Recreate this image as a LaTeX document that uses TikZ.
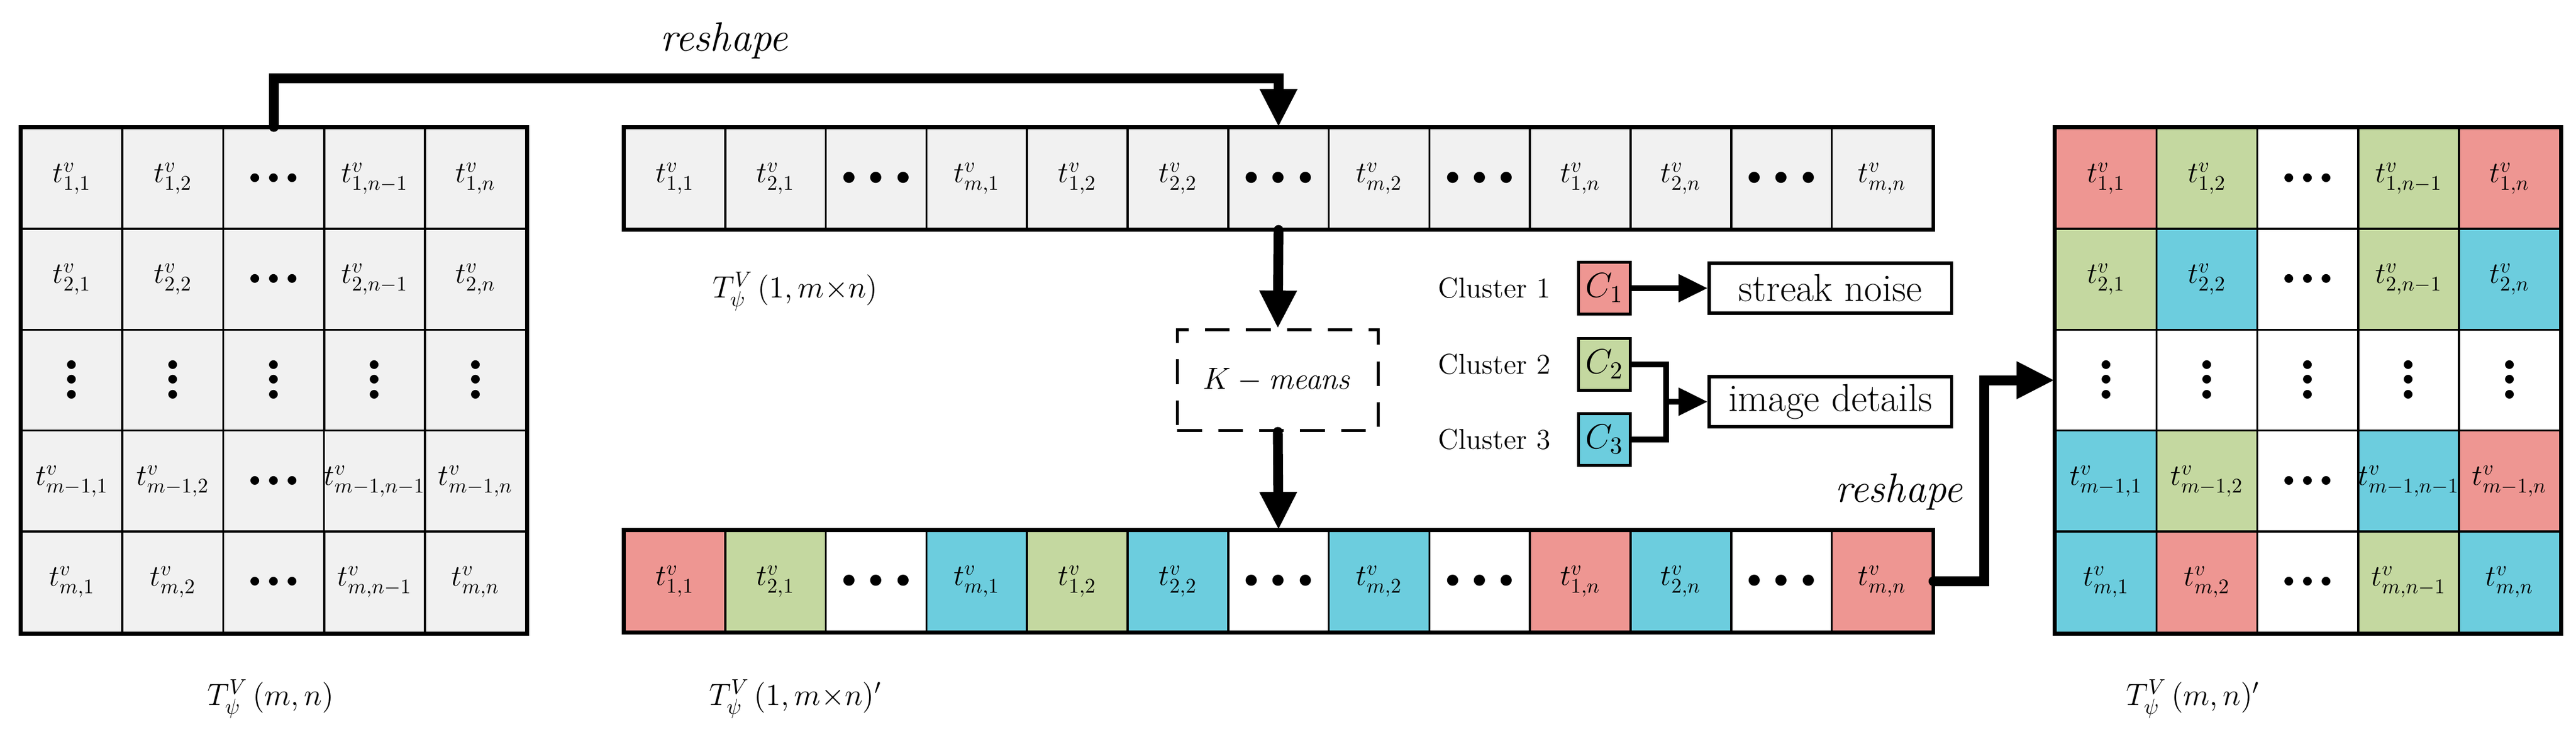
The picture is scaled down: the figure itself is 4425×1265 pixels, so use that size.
\RequirePackage{fix-cm}
\documentclass[tikz,border=0pt]{standalone}
\usepackage{amsmath,amssymb}
\usepackage{tikz}
\usetikzlibrary{arrows.meta,positioning}

\definecolor{cpink}{RGB}{238,150,146}
\definecolor{cgreen}{RGB}{196,216,160}
\definecolor{ccyan}{RGB}{108,205,222}
\definecolor{cgray}{RGB}{241,241,241}

\newcommand{\tv}[1]{$t^{v}_{#1}$}
\newcommand{\hdts}{{\fontsize{11}{13}\selectfont$\bullet\mkern2mu\bullet\mkern2mu\bullet$}}
\newcommand{\hdtsbig}{{\fontsize{14}{17}\selectfont$\bullet\mkern4mu\bullet\mkern4mu\bullet$}}
\newcommand{\vdts}{{\fontsize{11}{13}\selectfont$\vcenter{\baselineskip=7.2pt\lineskiplimit=-20pt\hbox{$\bullet$}\hbox{$\bullet$}\hbox{$\bullet$}}$}}

\begin{document}
\begin{tikzpicture}[x=0.01cm, y=-0.01cm,
  cell/.style={draw, line width=1pt, minimum size=1.733cm, inner sep=0pt, font=\fontsize{14.5}{17}\selectfont},
  seg/.style={draw, line width=1pt, minimum width=1.728cm, minimum height=1.733cm, inner sep=0pt, font=\fontsize{14.5}{17}\selectfont},
  clu/.style={draw, line width=1.3pt, minimum size=0.89cm, inner sep=0pt, font=\fontsize{17}{20}\selectfont},
  cluname/.style={inner sep=0pt, font=\fontsize{14}{17}\selectfont},
  outbox/.style={draw, line width=1.5pt, minimum width=4.16cm, minimum height=0.86cm, font=\fontsize{19}{22}\selectfont},
  lab/.style={font=\fontsize{15}{19}\selectfont},
  rs/.style={font=\fontsize{20}{24}\selectfont\itshape},
  bigarrow/.style={line width=4.8pt, line cap=round, -{Triangle[length=0.65cm,width=0.6cm]}},
  smallarrow/.style={line width=2.8pt, -{Triangle[length=0.5cm,width=0.46cm]}}]
  \useasboundingbox (0,0) rectangle (4425,1265);

  % left matrix
  \foreach \lab [count=\j] in {{\tv{1,1}},{\tv{1,2}},\hdts,{\tv{1,n-1}},{\tv{1,n}}}
    \node[cell, fill=cgray] (L1\j) at ({-49.65+173.3*\j}, 306.5) {\lab};
  \foreach \lab [count=\j] in {{\tv{2,1}},{\tv{2,2}},\hdts,{\tv{2,n-1}},{\tv{2,n}}}
    \node[cell, fill=cgray] (L2\j) at ({-49.65+173.3*\j}, 479.8) {\lab};
  \foreach \j in {1,...,5}
    \node[cell, fill=cgray] (L3\j) at ({-49.65+173.3*\j}, 653.1) {\vdts};
  \foreach \lab [count=\j] in {{\tv{m-1,1}},{\tv{m-1,2}},\hdts,{\tv{m-1,n-1}},{\tv{m-1,n}}}
    \node[cell, fill=cgray] (L4\j) at ({-49.65+173.3*\j}, 826.4) {\lab};
  \foreach \lab [count=\j] in {{\tv{m,1}},{\tv{m,2}},\hdts,{\tv{m,n-1}},{\tv{m,n}}}
    \node[cell, fill=cgray] (L5\j) at ({-49.65+173.3*\j}, 999.7) {\lab};
  \draw[line width=2pt] (L11.north west) rectangle (L55.south east);

  % flattened vector and its clustered copy
  \foreach \lab [count=\k] in {{\tv{1,1}},{\tv{2,1}},\hdtsbig,{\tv{m,1}},{\tv{1,2}},{\tv{2,2}},\hdtsbig,{\tv{m,2}},\hdtsbig,{\tv{1,n}},{\tv{2,n}},\hdtsbig,{\tv{m,n}}}
    \node[seg, fill=cgray] (A\k) at ({986.6+172.8*\k}, 306.5) {\lab};
  \foreach \lab/\col [count=\k] in {{\tv{1,1}}/cpink,{\tv{2,1}}/cgreen,\hdtsbig/white,{\tv{m,1}}/ccyan,{\tv{1,2}}/cgreen,{\tv{2,2}}/ccyan,\hdtsbig/white,{\tv{m,2}}/ccyan,\hdtsbig/white,{\tv{1,n}}/cpink,{\tv{2,n}}/ccyan,\hdtsbig/white,{\tv{m,n}}/cpink}
    \node[seg, fill=\col] (B\k) at ({986.6+172.8*\k}, 998.5) {\lab};
  \draw[line width=1.7pt] (A1.north west) rectangle (A13.south east);
  \draw[line width=1.7pt] (B1.north west) rectangle (B13.south east);

  % right matrix
  \foreach \lab/\col [count=\j] in {{\tv{1,1}}/cpink,{\tv{1,2}}/cgreen,\hdts/white,{\tv{1,n-1}}/cgreen,{\tv{1,n}}/cpink}
    \node[cell, fill=\col] (R1\j) at ({3444.35+173.3*\j}, 306.5) {\lab};
  \foreach \lab/\col [count=\j] in {{\tv{2,1}}/cgreen,{\tv{2,2}}/ccyan,\hdts/white,{\tv{2,n-1}}/cgreen,{\tv{2,n}}/ccyan}
    \node[cell, fill=\col] (R2\j) at ({3444.35+173.3*\j}, 479.8) {\lab};
  \foreach \j in {1,...,5}
    \node[cell, fill=white] (R3\j) at ({3444.35+173.3*\j}, 653.1) {\vdts};
  \foreach \lab/\col [count=\j] in {{\tv{m-1,1}}/ccyan,{\tv{m-1,2}}/cgreen,\hdts/white,{\tv{m-1,n-1}}/ccyan,{\tv{m-1,n}}/cpink}
    \node[cell, fill=\col] (R4\j) at ({3444.35+173.3*\j}, 826.4) {\lab};
  \foreach \lab/\col [count=\j] in {{\tv{m,1}}/ccyan,{\tv{m,2}}/cpink,\hdts/white,{\tv{m,n-1}}/cgreen,{\tv{m,n}}/ccyan}
    \node[cell, fill=\col] (R5\j) at ({3444.35+173.3*\j}, 999.7) {\lab};
  \draw[line width=2pt] (R11.north west) rectangle (R55.south east);

  % clustering
  \node[draw, line width=1.3pt, dash pattern=on 12pt off 8pt, minimum width=3.45cm, minimum height=1.73cm,
        font=\fontsize{15}{18}\selectfont] (km) at (2195, 653) {$K-\mathit{means}$};
  \node[clu, fill=cpink] (c1) at (2756, 495) {$C_1$};
  \node[clu, fill=cgreen] (c2) at (2756, 626) {$C_2$};
  \node[clu, fill=ccyan] (c3) at (2756, 755) {$C_3$};
  \node[cluname, left=0.45cm of c1] (n1) {Cluster 1};
  \node[cluname, left=0.45cm of c2] (n2) {Cluster 2};
  \node[cluname, left=0.45cm of c3] (n3) {Cluster 3};
  \node[outbox] (noise) at (3144, 495) {streak noise};
  \node[outbox] (detail) at (3144, 690) {image details};
  \coordinate (join) at (2862, 690);

  \draw[smallarrow] (c1.east) -- (noise.west);
  \draw[line width=2.8pt] (c2.east) -| (join) |- (c3.east);
  \draw[smallarrow] (join) -- (detail.west);

  % reshaping arrows
  \draw[bigarrow] (L13.north) -- ++(0,-84) -| (A7.north);
  \draw[bigarrow] (A7.south) -- (km.north);
  \draw[bigarrow] (km.south) -- (B7.north);
  \draw[bigarrow] (B13.east) -- ++(87,0) |- (R31.west);

  \node[rs] (rs1) at (1244, 70) {reshape};
  \node[rs] (rs2) at (3262, 845) {reshape};
  \node[lab] (tl) at (465, 1200) {$T_{\psi}^{V}\,(m,n)$};
  \node[lab] (tm) at (1366, 500) {$T_{\psi}^{V}\,(1,m{\times}n)$};
  \node[lab] (tb) at (1366, 1200) {$T_{\psi}^{V}\,(1,m{\times}n)'$};
  \node[lab] (tr) at (3767, 1200) {$T_{\psi}^{V}\,(m,n)'$};
\end{tikzpicture}
\end{document}
